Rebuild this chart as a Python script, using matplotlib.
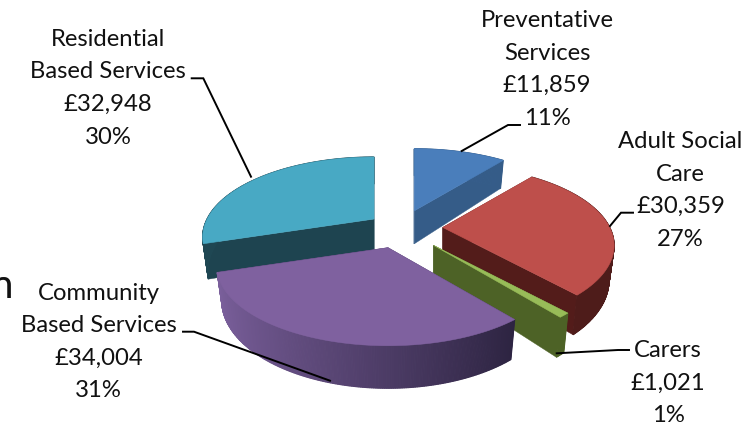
import numpy as np
import matplotlib
matplotlib.use("Agg")
import matplotlib.pyplot as plt
from matplotlib.colors import to_rgb

# Budget breakdown
names = ["Preventative\nServices", "Adult Social\nCare", "Carers",
         "Community\nBased Services", "Residential\nBased Services"]
amounts = [11859, 30359, 1021, 34004, 32948]
amount_labels = ["£11,859", "£30,359", "£1,021", "£34,004", "£32,948"]
percent_labels = ["11%", "27%", "1%", "31%", "30%"]

# Slice styling
top_colors = ["#4A7EBB", "#BE4F4B", "#98BC58", "#7F619F", "#48A9C4"]
face_colors = ["#355C88", "#531C1A", "#4D6226", "#3C2D57", "#1E4450"]
rim_light = ["#3B6697", "#661F1E", "#4F6428", "#7A5F9B", "#1F4753"]
rim_dark = ["#355C88", "#4E1C1A", "#4D6226", "#2C2340", "#1F4753"]
explode = [0.24, 0.25, 0.30, 0.27, 0.20]
draw_order = [4, 0, 1, 2, 3]

# Label placement: text centre x, first baseline y, leader vertices
label_x = [547, 680.5, 668, 98.5, 108]
label_y = [27, 148, 357, 299.5, 45.7]
leaders = [
    [(461.7, 151), (508, 125), (520, 125)],
    [(610, 226), (621, 212.7), (633, 212.7)],
    [(556.7, 353.3), (618, 350), (629, 350)],
    [(330, 380.7), (194, 331.7), (183, 331.7)],
    [(251, 176.7), (203.3, 78.3), (191.7, 78.3)],
]

# Perspective model of the disc
CX, CY = 401.0, 228.0
RX, RY = 167.0, 76.0
PERSP = 0.225
DEPTH = 33.0
BOTTOM_SHRINK = 0.97
LINE_PITCH = 32.6
FONT = "Lato"
FONT_SIZE = 17.2


def rim_point(apex, deg):
    t = np.radians(deg)
    w = 1 + PERSP * np.cos(t)
    return apex[0] + RX * np.sin(t) / w, apex[1] - RY * np.cos(t) / w, w


def drop(apex, p, w):
    return apex[0] + (p[0] - apex[0]) * BOTTOM_SHRINK, p[1] + DEPTH / w


fig = plt.figure(figsize=(7.51, 4.25), dpi=100, facecolor="white")
ax = fig.add_axes([0, 0, 1, 1])
ax.set_xlim(0, 751)
ax.set_ylim(425, 0)
ax.axis("off")

angles = np.cumsum([0] + amounts) / sum(amounts) * 360.0

for i in draw_order:
    start, end = angles[i], angles[i + 1]
    mid = np.radians((start + end) / 2)
    apex = (CX + explode[i] * RX * np.sin(mid), CY - explode[i] * RY * np.cos(mid))
    apex_low = (apex[0], apex[1] + DEPTH)
    steps = np.linspace(start, end, max(int(end - start) * 2, 3))

    # radial cut faces
    for edge in (start, end):
        x, y, w = rim_point(apex, edge)
        bx, by = drop(apex, (x, y), w)
        ax.fill([apex[0], x, bx, apex_low[0]], [apex[1], y, by, apex_low[1]],
                color=face_colors[i], lw=0.3, zorder=1)

    # outer wall, shaded by position across the front of the disc
    c0, c1 = np.array(to_rgb(rim_dark[i])), np.array(to_rgb(rim_light[i]))
    for a0, a1 in zip(steps[:-1], steps[1:]):
        x0, y0, w0 = rim_point(apex, a0)
        x1, y1, w1 = rim_point(apex, a1)
        b0, b1 = drop(apex, (x0, y0), w0), drop(apex, (x1, y1), w1)
        f = np.clip((np.sin(np.radians((a0 + a1) / 2)) * -1 + 0.65) / 1.6, 0, 1)
        col = c0 + (c1 - c0) * f
        ax.fill([x0, x1, b1[0], b0[0]], [y0, y1, b1[1], b0[1]],
                color=col, lw=0.8, zorder=1)

    # top face
    pts = [rim_point(apex, a)[:2] for a in steps]
    xs = [apex[0]] + [p[0] for p in pts]
    ys = [apex[1]] + [p[1] for p in pts]
    ax.fill(xs, ys, color=top_colors[i], lw=0.4, zorder=1)

# Leader lines and data labels
for i, name in enumerate(names):
    lx, ly = zip(*leaders[i])
    ax.plot(lx, ly, color="black", lw=1.4, solid_joinstyle="miter", zorder=3)
    lines = name.split("\n") + [amount_labels[i], percent_labels[i]]
    for j, line in enumerate(lines):
        ax.text(label_x[i], label_y[i] + j * LINE_PITCH, line, ha="center", va="baseline",
                family=FONT, fontsize=FONT_SIZE, color="#111111", zorder=4)

# Trailing letter of a neighbouring caption, cut by the left edge
ax.text(12.5, 298.5, "n", ha="right", va="baseline", family=FONT, fontsize=29, color="#111111")

fig.savefig("out.png", dpi=100, facecolor="white")
